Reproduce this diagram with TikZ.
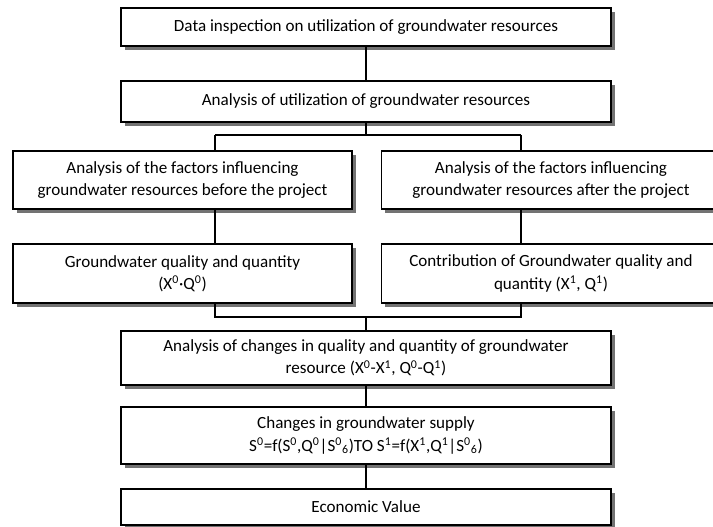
\documentclass[tikz,border=0pt]{standalone}
\usepackage{fontspec}
\setmainfont{Carlito}
\usetikzlibrary{shadows}
\begin{document}
\begin{tikzpicture}[x=0.75pt,y=-0.75pt,
  box/.style={draw=black, line width=1pt, fill=white, align=center, inner sep=2pt,
    font=\fontsize{12.8}{16.8}\selectfont,
    drop shadow={shadow xshift=2.8pt, shadow yshift=-2.8pt, fill=black!55, opacity=1}},
  wide/.style={minimum width=367.5pt},
  side/.style={minimum width=254.25pt},
  conn/.style={draw=black, line width=0.8pt}]
\useasboundingbox (0,0) rectangle (713,527);
\node[box, wide, minimum height=28.5pt] (b1) at (366,27) {Data inspection on utilization of groundwater resources};
\node[box, wide, minimum height=30.75pt] (b2) at (366,101.5) {Analysis of utilization of groundwater resources};
\node[box, side, minimum height=43.5pt] (b3l) at (182.5,180) {Analysis of the factors influencing\\groundwater resources before the project};
\node[box, side, minimum height=43.5pt] (b3r) at (551,180) {Analysis of the factors influencing\\groundwater resources after the project};
\node[box, side, minimum height=44.25pt] (b4l) at (182.5,273.5) {Groundwater quality and quantity\\(X\textsuperscript{0}·Q\textsuperscript{0})};
\node[box, side, minimum height=44.25pt] (b4r) at (551,273.5) {Contribution of Groundwater quality and\\quantity (X\textsuperscript{1}, Q\textsuperscript{1})};
\node[box, wide, minimum height=40.5pt] (b5) at (366,358) {Analysis of changes in quality and quantity of groundwater\\resource (X\textsuperscript{0}-X\textsuperscript{1}, Q\textsuperscript{0}-Q\textsuperscript{1})};
\node[box, wide, minimum height=42.75pt] (b6) at (366,435.5) {Changes in groundwater supply\\S\textsuperscript{0}=f(S\textsuperscript{0},Q\textsuperscript{0}|S\textsuperscript{0}\textsubscript{6})TO S\textsuperscript{1}=f(X\textsuperscript{1},Q\textsuperscript{1}|S\textsuperscript{0}\textsubscript{6})};
\node[box, wide, minimum height=27pt] (b7) at (366,507) {Economic Value};
\coordinate (tc) at (366,135);
\coordinate (tl) at (215,135);
\coordinate (tr) at (521,135);
\coordinate (bc) at (366,317);
\coordinate (bl) at (215,317);
\coordinate (br) at (521,317);
\draw[conn] (b1.south) -- (b2.north);
\draw[conn] (b2.south) -- (tc);
\draw[conn] (tl) -- (tr);
\draw[conn] (tl) -- (tl |- b3l.north);
\draw[conn] (tr) -- (tr |- b3r.north);
\draw[conn] (tl |- b3l.south) -- (tl |- b4l.north);
\draw[conn] (tr |- b3r.south) -- (tr |- b4r.north);
\draw[conn] (bl |- b4l.south) -- (bl) -- (br) -- (br |- b4r.south);
\draw[conn] (bc) -- (b5.north);
\draw[conn] (b5.south) -- (b6.north);
\draw[conn] (b6.south) -- (b7.north);
\end{tikzpicture}
\end{document}
